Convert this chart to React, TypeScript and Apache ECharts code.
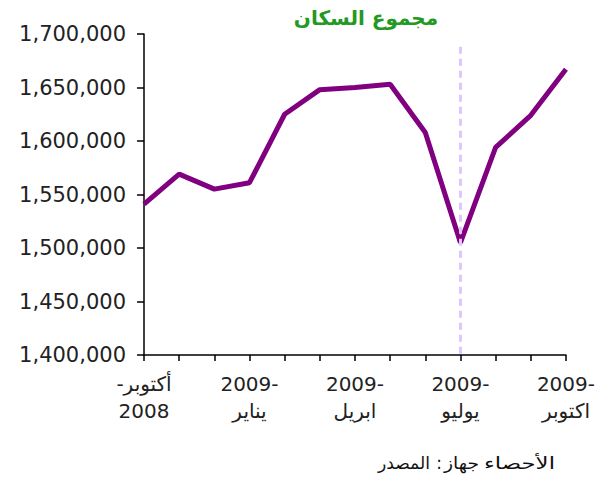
import React, { useEffect, useRef } from "react";
import * as echarts from "echarts";

const categories: string[] = [
  "-أكتوبر\n2008",
  "نوفمبر-2008",
  "ديسمبر-2008",
  "2009-\nيناير",
  "فبراير-2009",
  "مارس-2009",
  "2009-\nابريل",
  "مايو-2009",
  "يونيو-2009",
  "2009-\nيوليو",
  "أغسطس-2009",
  "سبتمبر-2009",
  "2009-\nاكتوبر",
];

const population: number[] = [
  1541000, 1569000, 1555000, 1561000, 1625000, 1648000, 1650000, 1653000,
  1608000, 1505000, 1594000, 1624000, 1667000,
];

const yTicks = { min: 1400000, max: 1700000, interval: 50000 };
const markerIndex = 9;
const markerTop = 1688000;

const titleText = "مجموع السكان";
const sourceWords = ["المصدر", ":", "جهاز", "الأحصاء"];

export default function App() {
  const ref = useRef<HTMLDivElement>(null);
  useEffect(() => {
    document.body.style.margin = "0";
    if (!ref.current) return;
    const chart = echarts.init(ref.current, undefined, { renderer: "svg" });
    const srcFont = "17px 'DejaVu Sans'";
    const srcY = 463;
    // left-to-right visual slots of the source words (as laid out in the reference)
    const spans: [number, number][] = [
      [378, 430],
      [436, 442],
      [444, 479],
      [484, 555],
    ];
    const ctx = document.createElement("canvas").getContext("2d");
    const srcTexts = sourceWords.map((w, i) => {
      let width = 10;
      if (ctx) {
        ctx.font = srcFont;
        width = ctx.measureText(w).width || 10;
      }
      const [a, b] = spans[i];
      const target = b - a;
      const s = Math.max(1, Math.min(1.5, target / width));
      return {
        type: "text",
        x: (a + b) / 2,
        y: srcY,
        scaleX: i === 1 ? 1 : s,
        style: {
          text: w,
          fill: "#111",
          font: srcFont,
          textAlign: "center",
          textVerticalAlign: "middle",
        },
      };
    });
    chart.setOption({
      animation: false,
      backgroundColor: "#ffffff",
      grid: { left: 144, right: 32, top: 34, bottom: 122, containLabel: false },
      xAxis: {
        type: "category",
        data: categories,
        boundaryGap: false,
        axisLine: { lineStyle: { color: "#000", width: 1.5 } },
        axisTick: { interval: 0, length: 6, lineStyle: { color: "#000", width: 1.5 } },
        axisLabel: {
          interval: 2,
          margin: 15,
          color: "#222",
          fontFamily: "DejaVu Sans",
          fontSize: 20,
          lineHeight: 27,
        },
        splitLine: { show: false },
      },
      yAxis: {
        type: "value",
        min: yTicks.min,
        max: yTicks.max,
        interval: yTicks.interval,
        axisLine: { show: true, lineStyle: { color: "#000", width: 1.5 } },
        axisTick: { show: true, length: 7, lineStyle: { color: "#000", width: 1.5 } },
        axisLabel: {
          margin: 18,
          color: "#222",
          fontFamily: "DejaVu Sans",
          fontSize: 21,
          formatter: (v: number) => v.toLocaleString("en-US"),
        },
        splitLine: { show: false },
      },
      series: [
        {
          type: "line",
          data: population,
          symbol: "none",
          lineStyle: { color: "#800080", width: 5 },
          markLine: {
            silent: true,
            symbol: "none",
            label: { show: false },
            lineStyle: { color: "#dcc8ff", width: 3, type: [7, 5] },
            data: [
              [
                { coord: [markerIndex, markerTop] },
                { coord: [markerIndex, yTicks.min] },
              ],
            ],
          },
        },
      ],
      graphic: [
        {
          type: "text",
          x: 366,
          y: 18,
          style: {
            text: titleText,
            fill: "#229922",
            font: "bold 20px 'DejaVu Sans'",
            textAlign: "center",
            textVerticalAlign: "middle",
          },
        },
        ...srcTexts,
      ],
    });
    return () => chart.dispose();
  }, []);
  return <div ref={ref} style={{ width: 598, height: 477 }} />;
}
